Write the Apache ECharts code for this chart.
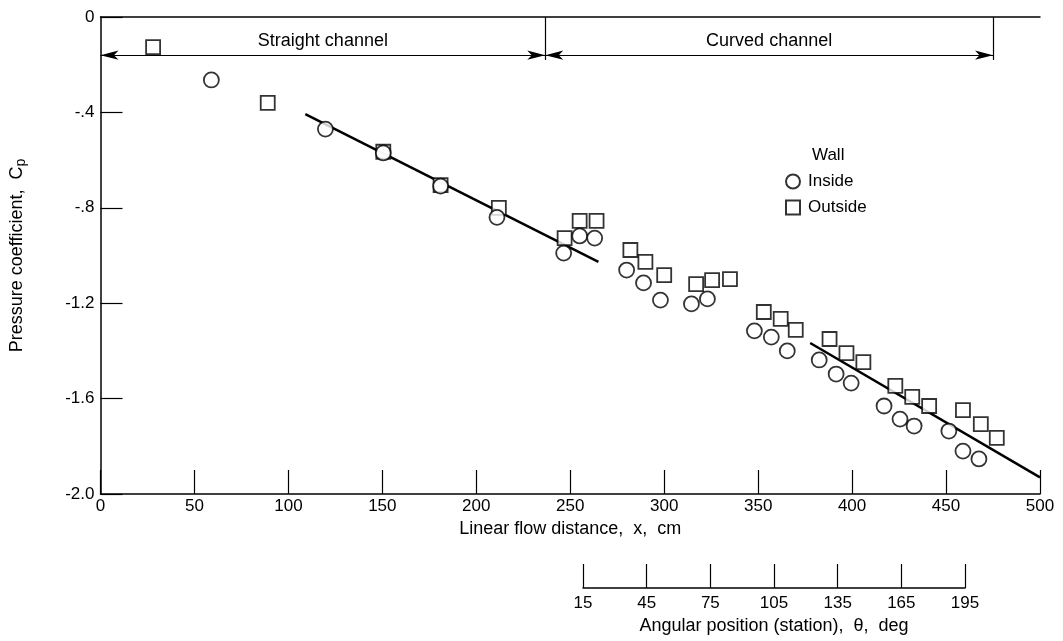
<!DOCTYPE html>
<html>
<head>
<meta charset="utf-8">
<script src="https://cdn.jsdelivr.net/npm/echarts@6/dist/echarts.min.js"></script>
<style>
  html, body { margin: 0; padding: 0; background: #fff; }
  #chart { width: 1063px; height: 641px; }
</style>
</head>
<body>
<div id="chart"></div>
<script>
// outside wall (squares)
const outsideX = [28, 89, 150.5, 181, 212, 247, 255, 264, 282, 290, 300, 317, 325.5, 335, 353, 362, 370, 388, 397, 406, 423, 432, 441, 459, 468.5, 477];
const outsideY = [-0.126, -0.36, -0.565, -0.705, -0.80, -0.927, -0.855, -0.855, -0.977, -1.027, -1.082, -1.12, -1.103, -1.099, -1.237, -1.266, -1.312, -1.35, -1.409, -1.447, -1.547, -1.593, -1.631, -1.648, -1.707, -1.765];
// inside wall (circles)
const insideX = [59, 119.7, 150.5, 181, 211, 246.5, 255, 263, 280, 289, 298, 314.5, 323, 348, 357, 365.5, 382.5, 391.5, 399.5, 417, 425.5, 433, 451.5, 459, 467.5];
const insideY = [-0.264, -0.47, -0.57, -0.709, -0.84, -0.99, -0.918, -0.927, -1.061, -1.115, -1.187, -1.203, -1.182, -1.316, -1.342, -1.4, -1.438, -1.497, -1.535, -1.631, -1.686, -1.715, -1.736, -1.82, -1.853];
// fairing lines
const fitStraightX = [109, 265];
const fitStraightY = [-0.407, -1.027];
const fitCurvedX = [377.7, 500];
const fitCurvedY = [-1.367, -1.93];
// channel dimension marks
const channelBounds = [0, 236.7, 475];
const channelNames = ['Straight channel', 'Curved channel'];
const channelY = -0.16;
const channelTickBottom = -0.18;
// tick labels
const yTickValues = [0, -0.4, -0.8, -1.2, -1.6, -2.0];
const yTickLabels = ['0', '-.4', '-.8', '-1.2', '-1.6', '-2.0'];
const angTicks = ['15', '45', '75', '105', '135', '165', '195'];

const zip = (xs, ys) => xs.map((x, i) => [x, ys[i]]);

const chart = echarts.init(document.getElementById('chart'));

const arrowLines = [];
for (let i = 0; i < channelNames.length; i++) {
    arrowLines.push([
        { coord: [channelBounds[i], channelY], name: channelNames[i] },
        { coord: [channelBounds[i + 1], channelY] }
    ]);
}
const tickLines = channelBounds.slice(1).map(b => [
    { coord: [b, 0], symbol: 'none' },
    { coord: [b, channelTickBottom], symbol: 'none' }
]);

const axisLineStyle = { color: '#000', width: 1.5 };

chart.setOption({
    animation: false,
    textStyle: { fontFamily: 'Liberation Sans', color: '#000' },
    title: {
        text: 'Wall',
        left: 807, top: 142,
        textStyle: { fontSize: 17, fontWeight: 'normal', color: '#000' }
    },
    legend: {
        data: ['Inside', 'Outside'],
        orient: 'vertical',
        left: 785, top: 173,
        padding: 0,
        itemWidth: 14, itemHeight: 14, itemGap: 9,
        textStyle: { fontSize: 17, color: '#000', padding: [0, 0, 0, 3] }
    },
    grid: [
        { left: 100, right: 23, top: 17, bottom: 147 },
        { left: 583, width: 382, top: 560, height: 28 }
    ],
    xAxis: [
        {
            gridIndex: 0, type: 'value', min: 0, max: 500, interval: 50, position: 'bottom',
            name: 'Linear flow distance,  x,  cm', nameLocation: 'middle', nameGap: 21,
            nameTextStyle: { fontSize: 18, color: '#000' },
            axisLine: { onZero: false, lineStyle: axisLineStyle },
            axisTick: { inside: true, length: 24, lineStyle: { color: '#000', width: 1.2 } },
            axisLabel: { fontSize: 17, color: '#000', margin: 4 },
            splitLine: { show: false }
        },
        {
            gridIndex: 0, type: 'value', min: 0, max: 500, position: 'top',
            axisLine: { show: true, onZero: false, lineStyle: axisLineStyle },
            axisTick: { show: false }, axisLabel: { show: false }, splitLine: { show: false }
        },
        {
            gridIndex: 1, type: 'category', data: angTicks, boundaryGap: false,
            name: 'Angular position (station),  \u03b8,  deg', nameLocation: 'middle', nameGap: 29,
            nameTextStyle: { fontSize: 18, color: '#000' },
            axisLine: { onZero: false, lineStyle: axisLineStyle },
            axisTick: { inside: true, length: 24, interval: 0, lineStyle: { color: '#000', width: 1.2 } },
            axisLabel: { interval: 0, fontSize: 17, color: '#000', margin: 7 },
            splitLine: { show: false }
        }
    ],
    yAxis: [
        {
            gridIndex: 0, type: 'value', min: -2.0, max: 0, interval: 0.4,
            name: 'Pressure coefficient,  C{s|p}', nameLocation: 'middle', nameGap: 72,
            nameTextStyle: {
                fontSize: 18, color: '#000',
                rich: { s: { fontSize: 14, color: '#000', padding: [9, 0, 0, 0] } }
            },
            axisLine: { onZero: false, lineStyle: axisLineStyle },
            axisTick: { inside: true, length: 22, lineStyle: { color: '#000', width: 1.2 } },
            axisLabel: {
                fontSize: 17, color: '#000', margin: 6,
                formatter: v => {
                    const i = yTickValues.findIndex(t => Math.abs(t - v) < 1e-6);
                    return i >= 0 ? yTickLabels[i] : '';
                }
            },
            splitLine: { show: false }
        },
        { gridIndex: 1, type: 'value', show: false }
    ],
    series: [
        {
            name: 'marks', type: 'line', xAxisIndex: 0, yAxisIndex: 0, data: [],
            markLine: {
                silent: true,
                symbol: ['arrow', 'arrow'],
                symbolSize: [7, 18],
                lineStyle: { color: '#000', width: 1.2, type: 'solid' },
                label: {
                    show: true, position: 'middle', formatter: '{b}',
                    fontSize: 18, color: '#000', backgroundColor: '#fff', padding: [0, 3]
                },
                data: arrowLines
            }
        },
        {
            name: 'ticks', type: 'line', xAxisIndex: 0, yAxisIndex: 0, data: [],
            markLine: {
                silent: true,
                symbol: ['none', 'none'],
                lineStyle: { color: '#000', width: 1.2, type: 'solid' },
                label: { show: false },
                data: tickLines
            }
        },
        {
            name: 'fitStraight', type: 'line', xAxisIndex: 0, yAxisIndex: 0,
            data: zip(fitStraightX, fitStraightY), showSymbol: false,
            lineStyle: { color: '#000', width: 2.5 }, z: 1
        },
        {
            name: 'fitCurved', type: 'line', xAxisIndex: 0, yAxisIndex: 0,
            data: zip(fitCurvedX, fitCurvedY), showSymbol: false,
            lineStyle: { color: '#000', width: 2.5 }, z: 1
        },
        {
            name: 'Outside', type: 'scatter', xAxisIndex: 0, yAxisIndex: 0,
            symbol: 'rect', symbolSize: 14,
            itemStyle: { color: '#fff', borderColor: '#000', borderWidth: 1.8 },
            data: zip(outsideX, outsideY), z: 3
        },
        {
            name: 'Inside', type: 'scatter', xAxisIndex: 0, yAxisIndex: 0,
            symbol: 'circle', symbolSize: 15,
            itemStyle: { color: '#fff', borderColor: '#000', borderWidth: 1.8 },
            data: zip(insideX, insideY), z: 4
        }
    ]
});
</script>
</body>
</html>
